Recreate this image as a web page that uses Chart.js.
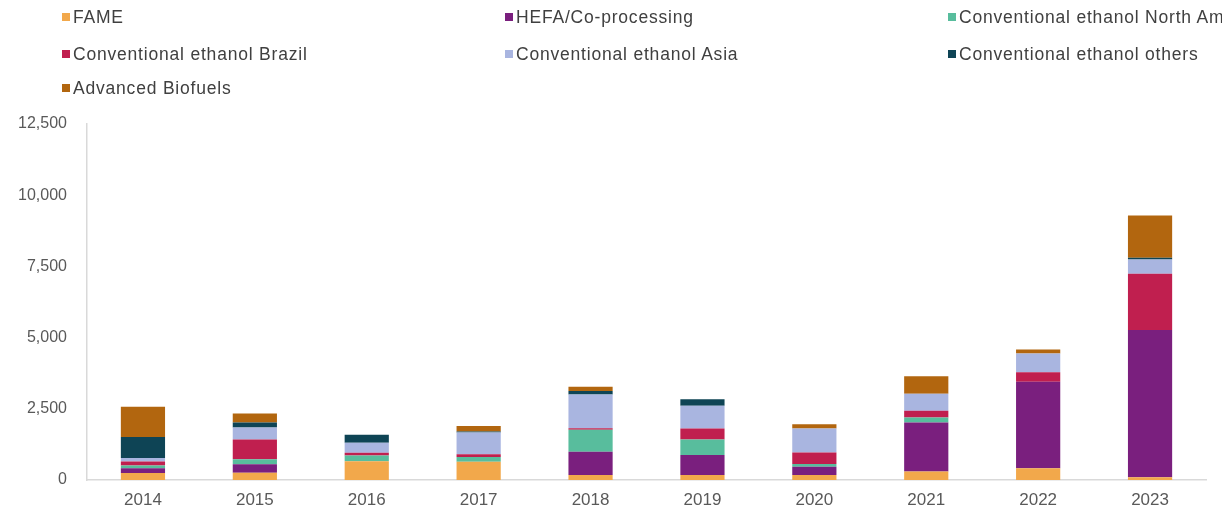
<!DOCTYPE html>
<html>
<head>
<meta charset="utf-8">
<script src="https://cdn.jsdelivr.net/npm/chart.js@4/dist/chart.umd.min.js"></script>
<style>
  html, body { margin: 0; padding: 0; background: #ffffff; overflow: hidden; }
  #wrap { position: relative; width: 1222px; height: 512px; overflow: hidden; }
  #chart { position: absolute; left: 0; top: 0; }
  #legend { position: absolute; left: 0; top: 0; width: 1222px; height: 110px; font-family: "Liberation Sans", Arial, sans-serif; font-size: 17.5px; letter-spacing: 0.8px; color: #404040; }
  .item { position: absolute; white-space: nowrap; display: flex; align-items: center; }
  .sw { width: 8px; height: 8px; margin-right: 3px; flex: none; }
</style>
</head>
<body>
<div id="wrap">
  <canvas id="chart" width="1222" height="512"></canvas>
  <div id="legend"></div>
</div>
<script>
const years = ['2014', '2015', '2016', '2017', '2018', '2019', '2020', '2021', '2022', '2023'];
const yTicks = [0, 2500, 5000, 7500, 10000, 12500];

const fame      = [250, 256, 660, 640, 176, 176, 175, 300, 410, 100];
const hefa      = [160, 300, 0, 0, 820, 700, 290, 1720, 3040, 5170];
const ethNorthAm = [100, 175, 200, 165, 770, 550, 100, 175, 0, 0];
const ethBrazil = [140, 690, 100, 95, 50, 385, 400, 235, 330, 1970];
const ethAsia   = [120, 420, 350, 770, 1190, 800, 840, 600, 665, 500];
const ethOthers = [740, 175, 280, 30, 120, 220, 0, 0, 0, 60];
const advanced  = [1060, 320, 0, 200, 150, 0, 150, 610, 140, 1485];

const seriesNames = ['FAME', 'HEFA/Co-processing', 'Conventional ethanol North America', 'Conventional ethanol Brazil', 'Conventional ethanol Asia', 'Conventional ethanol others', 'Advanced Biofuels'];
const seriesData = [fame, hefa, ethNorthAm, ethBrazil, ethAsia, ethOthers, advanced];
const seriesColors = ['#F2A84B', '#7A1F7E', '#58BD9D', '#C01F4F', '#A9B5E0', '#0E4455', '#B2660F'];

const datasets = seriesNames.map((name, i) => ({
  label: name,
  data: seriesData[i],
  backgroundColor: seriesColors[i],
  borderWidth: 0,
  categoryPercentage: 1.0,
  barPercentage: 0.395
}));

// HTML legend (3 columns, row-major)
const legendEl = document.getElementById('legend');
const colX = [62, 505, 948];
const rowY = [17, 54, 88];
seriesNames.forEach((name, i) => {
  const d = document.createElement('div');
  d.className = 'item';
  d.style.left = colX[i % 3] + 'px';
  d.style.top = (rowY[Math.floor(i / 3)] - 11) + 'px';
  d.style.height = '22px';
  const sw = document.createElement('span');
  sw.className = 'sw';
  sw.style.background = seriesColors[i];
  const t = document.createElement('span');
  t.textContent = name;
  d.appendChild(sw);
  d.appendChild(t);
  legendEl.appendChild(d);
});

new Chart(document.getElementById('chart'), {
  type: 'bar',
  data: { labels: years, datasets: datasets },
  options: {
    responsive: false,
    animation: false,
    layout: { padding: { top: 124, right: 16, bottom: 0, left: 0 } },
    plugins: { legend: { display: false }, tooltip: { enabled: false } },
    scales: {
      x: {
        stacked: true,
        grid: { display: false },
        border: { display: true, color: '#D9D9D9', width: 1.5 },
        ticks: { color: '#595959', font: { family: 'Liberation Sans', size: 17 }, padding: 2 },
        afterFit: (s) => { s.height = 32; }
      },
      y: {
        stacked: true,
        min: 0,
        max: 12500,
        afterBuildTicks: (s) => { s.ticks = yTicks.map(v => ({ value: v })); },
        grid: { display: false },
        border: { display: true, color: '#D9D9D9', width: 1.5 },
        ticks: {
          color: '#595959',
          font: { family: 'Liberation Sans', size: 16 },
          padding: 12,
          callback: (v) => Number(v).toLocaleString('en-US')
        },
        afterFit: (s) => { s.width = 87; }
      }
    }
  }
});
</script>
</body>
</html>
